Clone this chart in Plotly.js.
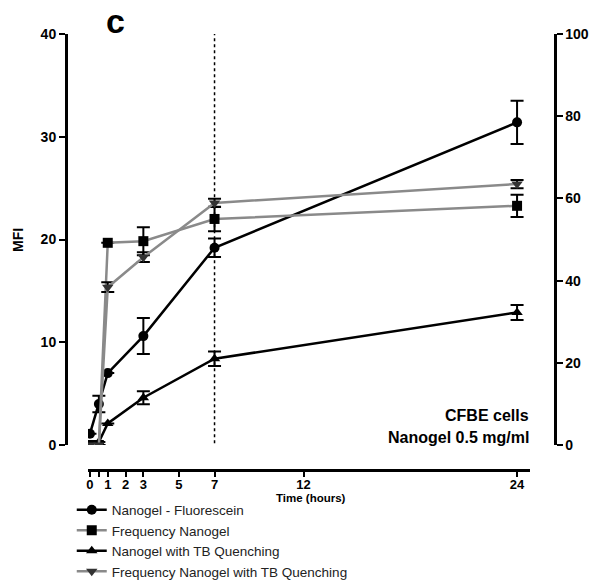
<!DOCTYPE html>
<html>
<head>
<meta charset="utf-8">
<script src="https://cdn.plot.ly/plotly-3.0.1.min.js"></script>
<style>html,body{margin:0;padding:0;background:#fff;}#chart{width:593px;height:581px;}</style>
</head>
<body>
<div id="chart"></div>
<script>
// ---- data ----
const timeHours = [0, 0.5, 1, 3, 7, 24];

const fluorescein      = [1.1, 4.0, 7.0, 10.6, 19.2, 31.4];   // MFI, left axis
const fluoresceinErr   = [null, 0.8, null, 1.75, 0.9, 2.1];

const freqNanogel      = [0, 0, 49.2, 49.6, 55.0, 58.2];      // %, right axis
const freqNanogelErr   = [null, null, null, 3.4, 3.0, 2.7];

const tbQuenching      = [0, 0.3, 2.1, 4.6, 8.4, 12.9];       // MFI, left axis
const tbQuenchingErr   = [null, null, null, 0.63, 0.7, 0.73];

const freqTbQuenching    = [0, 0, 38.4, 45.7, 58.9, 63.5];    // %, right axis
const freqTbQuenchingErr = [null, null, 1.2, 1.2, 1.0, 1.0];

const xTickVals = [0, 0.5, 1, 2, 3, 5, 7, 12, 24];
const xTickText = ["0", "", "1", "2", "3", "5", "7", "12", "24"];
const yLeftTicks = [0, 10, 20, 30, 40];
const yRightTicks = [0, 20, 40, 60, 80, 100];

const seriesNames = ["Nanogel - Fluorescein", "Frequency Nanogel", "Nanogel with TB Quenching", "Frequency Nanogel with TB Quenching"];

// ---- styling ----
const FONT = "Liberation Sans, Arial, Helvetica, sans-serif";
const BLACK = "#000000";
const GRAY = "#8a8a8a";

function errCfg(arr, color) {
  return {type: "data", array: arr, visible: true, color: color, thickness: 2, width: 6.5};
}

const traces = [
  {
    x: timeHours, y: freqNanogel, yaxis: "y2", name: seriesNames[1], legendrank: 2,
    mode: "lines+markers", line: {color: GRAY, width: 2.5},
    marker: {symbol: "square", size: 10, color: BLACK},
    error_y: errCfg(freqNanogelErr, BLACK)
  },
  {
    x: timeHours, y: freqTbQuenching, yaxis: "y2", name: seriesNames[3], legendrank: 4,
    mode: "lines+markers", line: {color: GRAY, width: 2.5},
    marker: {symbol: "triangle-down", size: 10, color: "#333333"},
    error_y: errCfg(freqTbQuenchingErr, BLACK)
  },
  {
    x: timeHours, y: fluorescein, yaxis: "y", name: seriesNames[0], legendrank: 1,
    mode: "lines+markers", line: {color: BLACK, width: 2.5},
    marker: {symbol: "circle", size: 10, color: BLACK},
    error_y: errCfg(fluoresceinErr, BLACK)
  },
  {
    x: timeHours, y: tbQuenching, yaxis: "y", name: seriesNames[2], legendrank: 3,
    mode: "lines+markers", line: {color: BLACK, width: 2.5},
    marker: {symbol: "triangle-up", size: 10, color: BLACK},
    error_y: errCfg(tbQuenchingErr, BLACK)
  }
];

const tickFont = {family: FONT, size: 14, color: BLACK, weight: "bold"};
const axisCommon = {
  showline: true, linecolor: BLACK, linewidth: 2.5,
  ticks: "outside", ticklen: 6, tickwidth: 2, tickcolor: BLACK,
  showgrid: false, zeroline: false, tickfont: tickFont, fixedrange: true,
  automargin: false
};

const layout = {
  width: 593, height: 581,
  margin: {l: 66, r: 38, t: 34, b: 111, pad: 0, autoexpand: false},
  paper_bgcolor: "#ffffff", plot_bgcolor: "#ffffff",
  font: {family: FONT, color: BLACK},
  showlegend: true,
  legend: {
    xref: "container", yref: "container", x: 0.121, y: 0.149,
    xanchor: "left", yanchor: "top", orientation: "v",
    font: {family: FONT, size: 13.5, color: "#222222"},
    bgcolor: "rgba(0,0,0,0)", borderwidth: 0, tracegroupgap: 0
  },
  xaxis: Object.assign({}, axisCommon, {
    domain: [0.045, 0.949], range: [-0.11, 24.73],
    anchor: "free", position: 0, tickangle: 0, ticklen: 5,
    ticklabelstandoff: -3,
    tickfont: {family: FONT, size: 13, color: BLACK, weight: "bold"},
    tickmode: "array", tickvals: xTickVals, ticktext: xTickText
  }),
  yaxis: Object.assign({}, axisCommon, {
    domain: [0.0573, 1], range: [0, 40],
    anchor: "free", position: 0,
    tickmode: "array", tickvals: yLeftTicks
  }),
  yaxis2: Object.assign({}, axisCommon, {
    domain: [0.0573, 1], range: [0, 100],
    overlaying: "y", side: "right", anchor: "free", position: 1,
    tickmode: "array", tickvals: yRightTicks
  }),
  shapes: [{
    type: "line", xref: "x", yref: "y", x0: 7, x1: 7, y0: -1, y1: 40,
    line: {color: BLACK, width: 1.5, dash: "dot"}, layer: "below"
  }],
  annotations: [
    {xref: "paper", yref: "paper", x: (18 - 66) / 489, y: (470 - 240) / 436, xanchor: "center", yanchor: "middle",
     text: "MFI", textangle: -90, showarrow: false, font: {family: FONT, size: 14, color: BLACK, weight: "bold"}},
    {xref: "paper", yref: "paper", x: (311 - 66) / 489, y: (470 - 498) / 436, xanchor: "center", yanchor: "middle",
     text: "Time (hours)", showarrow: false, font: {family: FONT, size: 11.5, color: BLACK, weight: "bold"}},
    {xref: "paper", yref: "paper", x: (531 - 66) / 489, y: (470 - 415) / 436, xanchor: "right", yanchor: "middle",
     text: "CFBE cells", showarrow: false, font: {family: FONT, size: 16, color: BLACK, weight: "bold"}},
    {xref: "paper", yref: "paper", x: (531 - 66) / 489, y: (470 - 437) / 436, xanchor: "right", yanchor: "middle",
     text: "Nanogel 0.5 mg/ml", showarrow: false, font: {family: FONT, size: 16, color: BLACK, weight: "bold"}},
    {xref: "paper", yref: "paper", x: (115 - 66) / 489, y: (470 - 21) / 436, xanchor: "center", yanchor: "middle",
     text: "c", showarrow: false, font: {family: FONT, size: 34, color: BLACK, weight: "bold"}}
  ]
};

Plotly.newPlot("chart", traces, layout, {displayModeBar: false, staticPlot: true});
</script>
</body>
</html>
